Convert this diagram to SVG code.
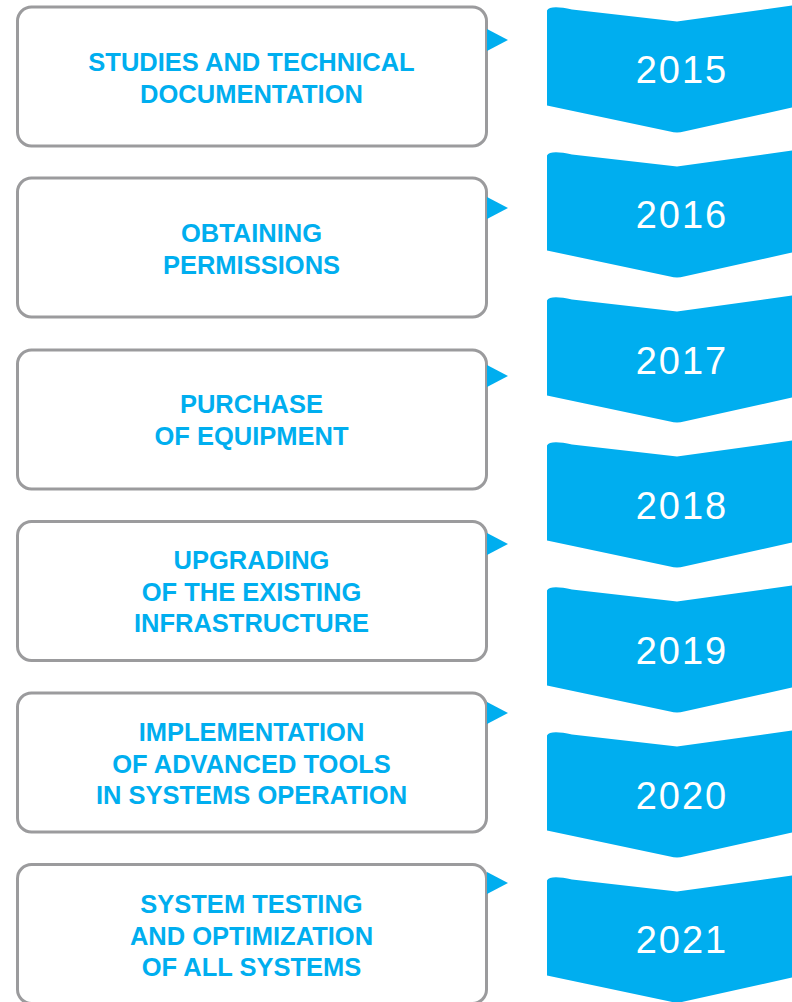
<svg xmlns="http://www.w3.org/2000/svg" xmlns:xlink="http://www.w3.org/1999/xlink" width="792" height="1002" viewBox="0 0 792 1002">
  <style>
    .box { fill: #ffffff; stroke: #9b9b9d; stroke-width: 3; }
    .label { fill: #00aeef; font-family: "Liberation Sans", Arial, sans-serif; font-weight: bold; font-size: 25.5px; text-anchor: middle; }
    .band { fill: #00aeef; }
    .year { fill: #ffffff; font-family: "Liberation Sans", Arial, sans-serif; font-size: 38px; letter-spacing: 2px; text-anchor: middle; }
    .pointer { fill: #00aeef; }
  </style>
  <defs>
    <!-- ribbon-style chevron band, origin at its top-left corner -->
    <path id="chevron" d="M547,3 C549,-1 558,-1 572,2 L677,14 L792,-2 L792,100 L684,124 Q677,126 670,124 L547,98 Z"/>
    <!-- small pointer from a task box towards the year column -->
    <path id="tip" d="M487,-11 L508,0 L487,11 Z"/>
  </defs>

  <!-- task boxes -->
  <g id="task-studies">
    <rect class="box" x="17.5" y="7" width="469" height="139" rx="14"/>
    <text class="label" x="251.5" y="71">STUDIES AND TECHNICAL</text>
    <text class="label" x="251.5" y="103">DOCUMENTATION</text>
  </g>
  <g id="task-permissions">
    <rect class="box" x="17.5" y="178" width="469" height="139" rx="14"/>
    <text class="label" x="251.5" y="242">OBTAINING</text>
    <text class="label" x="251.5" y="274">PERMISSIONS</text>
  </g>
  <g id="task-purchase">
    <rect class="box" x="17.5" y="350" width="469" height="139" rx="14"/>
    <text class="label" x="251.5" y="413">PURCHASE</text>
    <text class="label" x="251.5" y="445">OF EQUIPMENT</text>
  </g>
  <g id="task-upgrading">
    <rect class="box" x="17.5" y="521.5" width="469" height="139" rx="14"/>
    <text class="label" x="251.5" y="569">UPGRADING</text>
    <text class="label" x="251.5" y="600.5">OF THE EXISTING</text>
    <text class="label" x="251.5" y="632">INFRASTRUCTURE</text>
  </g>
  <g id="task-implementation">
    <rect class="box" x="17.5" y="693" width="469" height="139" rx="14"/>
    <text class="label" x="251.5" y="741">IMPLEMENTATION</text>
    <text class="label" x="251.5" y="772.5">OF ADVANCED TOOLS</text>
    <text class="label" x="251.5" y="804">IN SYSTEMS OPERATION</text>
  </g>
  <g id="task-testing">
    <rect class="box" x="17.5" y="864.5" width="469" height="139" rx="14"/>
    <text class="label" x="251.5" y="913">SYSTEM TESTING</text>
    <text class="label" x="251.5" y="944.5">AND OPTIMIZATION</text>
    <text class="label" x="251.5" y="976">OF ALL SYSTEMS</text>
  </g>

  <!-- year bands -->
  <g id="year-2015">
    <use xlink:href="#chevron" class="band" transform="translate(0,7.5)"/>
    <text class="year" x="682" y="83">2015</text>
  </g>
  <g id="year-2016">
    <use xlink:href="#chevron" class="band" transform="translate(0,152.5)"/>
    <text class="year" x="682" y="228">2016</text>
  </g>
  <g id="year-2017">
    <use xlink:href="#chevron" class="band" transform="translate(0,297.5)"/>
    <text class="year" x="682" y="374">2017</text>
  </g>
  <g id="year-2018">
    <use xlink:href="#chevron" class="band" transform="translate(0,442.5)"/>
    <text class="year" x="682" y="519">2018</text>
  </g>
  <g id="year-2019">
    <use xlink:href="#chevron" class="band" transform="translate(0,587.5)"/>
    <text class="year" x="682" y="664">2019</text>
  </g>
  <g id="year-2020">
    <use xlink:href="#chevron" class="band" transform="translate(0,732.5)"/>
    <text class="year" x="682" y="809">2020</text>
  </g>
  <g id="year-2021">
    <use xlink:href="#chevron" class="band" transform="translate(0,877.5)"/>
    <text class="year" x="682" y="953">2021</text>
  </g>

  <!-- pointers from the boxes -->
  <g id="connectors">
    <use xlink:href="#tip" class="pointer" transform="translate(0,40)"/>
    <use xlink:href="#tip" class="pointer" transform="translate(0,208)"/>
    <use xlink:href="#tip" class="pointer" transform="translate(0,376)"/>
    <use xlink:href="#tip" class="pointer" transform="translate(0,544)"/>
    <use xlink:href="#tip" class="pointer" transform="translate(0,713)"/>
    <use xlink:href="#tip" class="pointer" transform="translate(0,883)"/>
  </g>
</svg>
